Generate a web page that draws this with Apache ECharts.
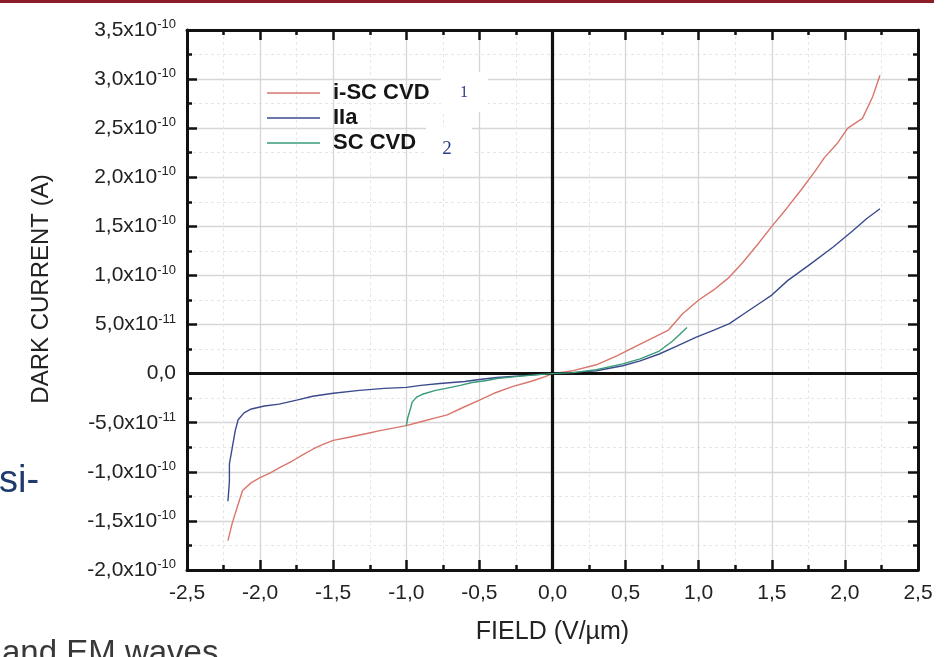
<!DOCTYPE html>
<html>
<head>
<meta charset="utf-8">
<script src="https://cdn.jsdelivr.net/npm/echarts@6/dist/echarts.min.js"></script>
<style>
  html, body { margin: 0; padding: 0; background: #fff; }
  #chart { width: 951px; height: 657px; }
</style>
</head>
<body>
<div id="chart"></div>
<script>
// Dark current vs. applied field for three diamond samples.
// Field in V/µm, current in units of 1e-10 A.
const iscCvdField = [-2.22, -2.19, -2.15, -2.12, -2.06, -2.0, -1.93, -1.87, -1.78, -1.7, -1.64, -1.57, -1.5, -1.4, -1.27, -1.18, -1.0, -0.9, -0.8, -0.72, -0.62, -0.5, -0.4, -0.27, -0.15, -0.05, 0, 0.14, 0.3, 0.44, 0.6, 0.79, 0.89, 1.0, 1.1, 1.2, 1.3, 1.4, 1.5, 1.6, 1.7, 1.8, 1.86, 1.95, 2.02, 2.12, 2.19, 2.24];
const iscCvdCurrent = [-1.70, -1.52, -1.33, -1.19, -1.11, -1.06, -1.01, -0.96, -0.89, -0.82, -0.77, -0.72, -0.68, -0.65, -0.61, -0.58, -0.53, -0.49, -0.45, -0.42, -0.35, -0.27, -0.20, -0.13, -0.08, -0.03, 0, 0.03, 0.09, 0.18, 0.30, 0.44, 0.61, 0.75, 0.85, 0.97, 1.13, 1.31, 1.50, 1.68, 1.87, 2.07, 2.20, 2.35, 2.50, 2.60, 2.82, 3.04];

const iiaField = [-2.22, -2.21, -2.21, -2.19, -2.17, -2.15, -2.11, -2.06, -1.97, -1.87, -1.75, -1.64, -1.5, -1.32, -1.15, -1.0, -0.9, -0.77, -0.6, -0.5, -0.38, -0.2, 0, 0.14, 0.3, 0.48, 0.6, 0.73, 0.85, 0.98, 1.1, 1.21, 1.32, 1.44, 1.5, 1.61, 1.75, 1.92, 2.05, 2.15, 2.24];
const iiaCurrent = [-1.30, -1.10, -0.92, -0.75, -0.58, -0.47, -0.40, -0.36, -0.33, -0.31, -0.27, -0.23, -0.20, -0.17, -0.15, -0.14, -0.12, -0.10, -0.08, -0.06, -0.04, -0.02, 0, 0.01, 0.03, 0.08, 0.13, 0.20, 0.28, 0.37, 0.44, 0.51, 0.62, 0.74, 0.80, 0.95, 1.10, 1.29, 1.45, 1.58, 1.68];

const scCvdField = [-1.0, -0.99, -0.97, -0.96, -0.93, -0.89, -0.8, -0.73, -0.63, -0.55, -0.45, -0.38, -0.25, -0.1, 0, 0.14, 0.3, 0.48, 0.6, 0.73, 0.82, 0.92];
const scCvdCurrent = [-0.53, -0.45, -0.35, -0.29, -0.24, -0.21, -0.17, -0.15, -0.12, -0.09, -0.07, -0.05, -0.03, -0.01, 0, 0.01, 0.04, 0.10, 0.15, 0.23, 0.33, 0.47];

const seriesNames = ['i-SC CVD', 'IIa', 'SC CVD'];
const seriesColors = ['#d9766c', '#3b4a8c', '#3a9a7a'];

const fieldTicks = { min: -2.5, max: 2.5, step: 0.5 };
const currentTicks = { min: -2.0, max: 3.5, step: 0.5 };

const zip = (xs, ys) => xs.map((x, i) => [x, ys[i]]);

const FONT = '"Liberation Sans", Arial, sans-serif';

function currentLabel(v) {
  const r = Math.round(v * 10) / 10;
  if (Math.abs(r) < 1e-9) return '{m|0,0}';
  if (Math.abs(Math.abs(r) - 0.5) < 1e-9) {
    return '{m|' + (r < 0 ? '-' : '') + '5,0x10}{s|-11}';
  }
  return '{m|' + r.toFixed(1).replace('.', ',') + 'x10}{s|-10}';
}

const fieldLabel = v => (Math.round(v * 10) / 10).toFixed(1).replace('.', ',');

const frameLine = { show: true, onZero: false, lineStyle: { color: '#111', width: 3 } };
const majorTick = { show: true, inside: true, length: 10, lineStyle: { color: '#111', width: 2.5 } };
const minorTick = { show: true, splitNumber: 2, length: 5, lineStyle: { color: '#111', width: 2.5 } };

const chart = echarts.init(document.getElementById('chart'));

chart.setOption({
  backgroundColor: '#ffffff',
  animation: false,
  grid: { left: 187, right: 33, top: 30, bottom: 87, containLabel: false },
  legend: {
    orient: 'vertical',
    left: 262,
    top: 77,
    itemWidth: 53,
    itemHeight: 18,
    itemGap: 3,
    icon: 'path://M0,0H53V1.4H0Z',
    data: seriesNames,
    textStyle: {
      fontFamily: FONT,
      fontWeight: 'bold',
      fontSize: 22,
      color: '#151515',
      lineHeight: 21,
      padding: [0, 0, 0, 8]
    }
  },
  xAxis: [
    {
      type: 'value',
      min: fieldTicks.min, max: fieldTicks.max, interval: fieldTicks.step,
      position: 'bottom',
      name: 'FIELD (V/µm)',
      nameLocation: 'middle',
      nameGap: 50,
      nameTextStyle: { fontFamily: FONT, fontSize: 25, color: '#222' },
      axisLine: frameLine,
      axisTick: majorTick,
      minorTick: minorTick,
      axisLabel: { formatter: fieldLabel, fontFamily: FONT, fontSize: 21, color: '#222', margin: 13 },
      splitLine: { show: true, lineStyle: { color: '#d6d6d6', width: 1.3 } },
      minorSplitLine: { show: true, lineStyle: { color: '#e6e6e6', width: 1, type: [3, 3] } }
    },
    {
      type: 'value',
      min: fieldTicks.min, max: fieldTicks.max, interval: fieldTicks.step,
      position: 'top',
      axisLine: frameLine,
      axisTick: majorTick,
      minorTick: minorTick,
      axisLabel: { show: false },
      splitLine: { show: false }
    }
  ],
  yAxis: [
    {
      type: 'value',
      min: currentTicks.min, max: currentTicks.max, interval: currentTicks.step,
      position: 'left',
      name: 'DARK CURRENT (A)',
      nameLocation: 'middle',
      nameGap: 134,
      nameTextStyle: { fontFamily: FONT, fontSize: 24, color: '#222', padding: [0, 0, 0, 22] },
      axisLine: frameLine,
      axisTick: majorTick,
      minorTick: minorTick,
      axisLabel: {
        formatter: currentLabel,
        margin: 11,
        rich: {
          m: { fontFamily: FONT, fontSize: 21, color: '#222', lineHeight: 24 },
          s: { fontFamily: FONT, fontSize: 13, color: '#222', lineHeight: 13, verticalAlign: 'top' }
        }
      },
      splitLine: { show: true, lineStyle: { color: '#d6d6d6', width: 1.3 } },
      minorSplitLine: { show: true, lineStyle: { color: '#e6e6e6', width: 1, type: [3, 3] } }
    },
    {
      type: 'value',
      min: currentTicks.min, max: currentTicks.max, interval: currentTicks.step,
      position: 'right',
      axisLine: frameLine,
      axisTick: majorTick,
      minorTick: minorTick,
      axisLabel: { show: false },
      splitLine: { show: false }
    }
  ],
  series: [
    {
      name: seriesNames[0],
      type: 'line',
      data: zip(iscCvdField, iscCvdCurrent),
      symbol: 'none',
      color: seriesColors[0],
      lineStyle: { width: 1.4 },
      z: 3,
      markLine: {
        silent: true,
        symbol: 'none',
        label: { show: false },
        lineStyle: { color: '#111', width: 3.2, type: 'solid' },
        data: [{ xAxis: 0 }, { yAxis: 0 }]
      }
    },
    {
      name: seriesNames[1],
      type: 'line',
      data: zip(iiaField, iiaCurrent),
      symbol: 'none',
      color: seriesColors[1],
      lineStyle: { width: 1.4 },
      z: 4
    },
    {
      name: seriesNames[2],
      type: 'line',
      data: zip(scCvdField, scCvdCurrent),
      symbol: 'none',
      color: seriesColors[2],
      lineStyle: { width: 1.4 },
      z: 5
    }
  ],
  graphic: [
    { type: 'rect', z: 100, shape: { x: 0, y: 0, width: 934, height: 3 }, style: { fill: '#8c1c28' } },
    { type: 'rect', z: 100, shape: { x: 441, y: 72, width: 47, height: 40 }, style: { fill: '#ffffff' } },
    { type: 'text', z: 101, x: 464, y: 93, style: { text: '1', fontFamily: '"Liberation Serif", "DejaVu Serif", serif', fontSize: 16, fill: '#2b3c86', align: 'center', verticalAlign: 'middle' } },
    { type: 'rect', z: 100, shape: { x: 426, y: 127, width: 46, height: 40 }, style: { fill: '#ffffff' } },
    { type: 'text', z: 101, x: 447, y: 149, style: { text: '2', fontFamily: '"Liberation Serif", "DejaVu Serif", serif', fontSize: 19, fill: '#2b3c86', align: 'center', verticalAlign: 'middle' } },
    { type: 'text', z: 100, x: -1, y: 482, style: { text: 'si-', fontFamily: FONT, fontSize: 38, fill: '#1f3a6e', align: 'left', verticalAlign: 'middle' } },
    { type: 'text', z: 100, x: 2, y: 654, style: { text: 'and EM waves', fontFamily: FONT, fontSize: 33, fill: '#383838', align: 'left', verticalAlign: 'middle' } }
  ]
});
</script>
</body>
</html>
